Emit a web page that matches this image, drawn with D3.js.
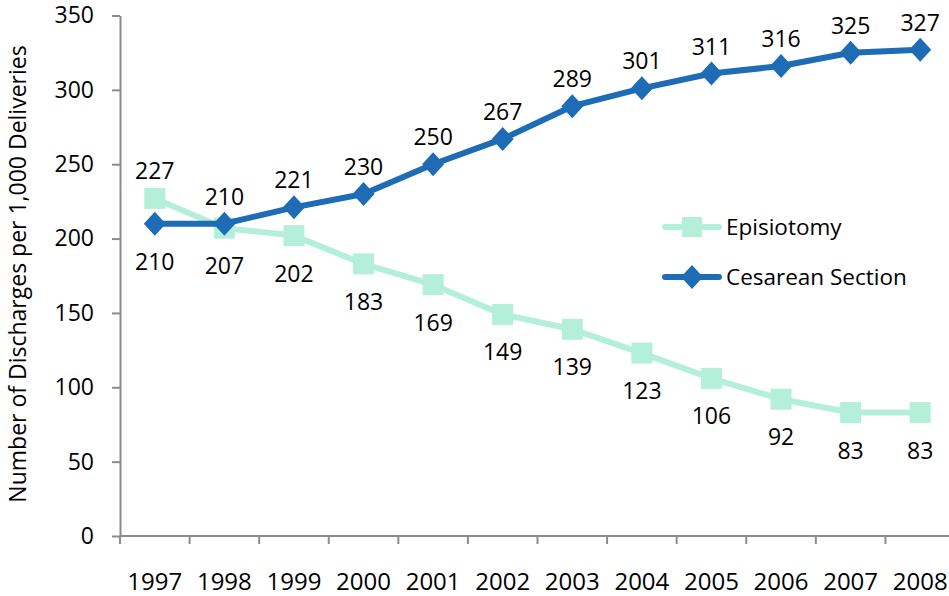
<!DOCTYPE html>
<html>
<head>
<meta charset="utf-8">
<script src="https://cdn.jsdelivr.net/npm/d3@7"></script>
<style>
  body { margin: 0; background: #fff; }
  svg { display: block; font-family: "Open Sans", sans-serif; }
</style>
</head>
<body>
<svg id="chart" width="949" height="596"></svg>
<script>
var years = ["1997", "1998", "1999", "2000", "2001", "2002", "2003", "2004", "2005", "2006", "2007", "2008"];
var episiotomy = [227, 207, 202, 183, 169, 149, 139, 123, 106, 92, 83, 83];
var cesarean = [210, 210, 221, 230, 250, 267, 289, 301, 311, 316, 325, 327];
var yTicks = [0, 50, 100, 150, 200, 250, 300, 350];

// label above (true) or below (false) the point
var epiAbove = [true, false, false, false, false, false, false, false, false, false, false, false];
var cesAbove = [false, true, true, true, true, true, true, true, true, true, true, true];

var mint = "#b3efd9", blue = "#1e6bb6", axisCol = "#8c8c8c";

var svg = d3.select("#chart");
var plotL = 120, plotB = 536, plotT = 15.5, plotR = 955;

var x = d3.scaleBand().domain(years).range([plotL, plotR]);
var y = d3.scaleLinear().domain([0, 350]).range([plotB, plotT]);
var cx = function(i) { return x(years[i]) + x.bandwidth() / 2; };

// y axis
var yAxis = svg.append("g")
  .attr("transform", "translate(" + plotL + ",0)")
  .call(d3.axisLeft(y).tickValues(yTicks).tickSize(8).tickPadding(18).tickSizeOuter(0));
yAxis.select(".domain").attr("stroke", axisCol).attr("stroke-width", 2);
yAxis.selectAll(".tick line").attr("stroke", axisCol).attr("stroke-width", 2);
yAxis.selectAll(".tick text").attr("font-size", 23).attr("fill", "#000")
  .attr("font-family", "Open Sans, sans-serif");

// x axis, ticks between categories
var xAxis = svg.append("g")
  .attr("transform", "translate(0," + plotB + ")");
xAxis.append("line").attr("x1", plotL).attr("x2", plotR).attr("stroke", axisCol).attr("stroke-width", 2);
xAxis.selectAll("line.tk").data(d3.range(years.length + 1)).enter().append("line")
  .attr("class", "tk")
  .attr("x1", function(d) { return plotL + d * x.bandwidth(); })
  .attr("x2", function(d) { return plotL + d * x.bandwidth(); })
  .attr("y1", 0).attr("y2", 8)
  .attr("stroke", axisCol).attr("stroke-width", 2);
xAxis.selectAll("text").data(years).enter().append("text")
  .attr("x", function(d, i) { return cx(i); })
  .attr("y", 54)
  .attr("text-anchor", "middle")
  .attr("font-size", 24)
  .text(function(d) { return d; });

// y axis title
svg.append("text")
  .attr("transform", "translate(26,274) rotate(-90)")
  .attr("text-anchor", "middle")
  .attr("font-size", 23)
  .text("Number of Discharges per 1,000 Deliveries");

var line = d3.line().x(function(d, i) { return cx(i); }).y(function(d) { return y(d); });

// Episiotomy
svg.append("path").datum(episiotomy).attr("d", line)
  .attr("fill", "none").attr("stroke", mint).attr("stroke-width", 6).attr("stroke-linejoin", "round");
svg.selectAll("rect.epi").data(episiotomy).enter().append("rect")
  .attr("class", "epi")
  .attr("x", function(d, i) { return cx(i) - 10.5; })
  .attr("y", function(d) { return y(d) - 10.5; })
  .attr("width", 21).attr("height", 21)
  .attr("fill", mint);

// Cesarean
svg.append("path").datum(cesarean).attr("d", line)
  .attr("fill", "none").attr("stroke", blue).attr("stroke-width", 6).attr("stroke-linejoin", "round");
var diamond = "M0,-12L11,0L0,12L-11,0Z";
svg.selectAll("path.ces").data(cesarean).enter().append("path")
  .attr("class", "ces")
  .attr("d", diamond)
  .attr("transform", function(d, i) { return "translate(" + cx(i) + "," + y(d) + ")"; })
  .attr("fill", blue);

// data labels
function labels(vals, above, cls) {
  svg.selectAll("text." + cls).data(vals).enter().append("text")
    .attr("class", cls)
    .attr("x", function(d, i) { return cx(i); })
    .attr("y", function(d, i) { return y(d) + (above[i] ? -27 : 38); })
    .attr("dy", "0.35em")
    .attr("text-anchor", "middle")
    .attr("font-size", 23)
    .text(function(d) { return d; });
}
labels(episiotomy, epiAbove, "lepi");
labels(cesarean, cesAbove, "lces");

// legend
var legend = [
  { name: "Episiotomy", color: mint, y: 227, type: "sq" },
  { name: "Cesarean Section", color: blue, y: 277, type: "di" }
];
var lg = svg.selectAll("g.lg").data(legend).enter().append("g")
  .attr("class", "lg")
  .attr("transform", function(d) { return "translate(0," + d.y + ")"; });
lg.append("line").attr("x1", 665).attr("x2", 719)
  .attr("stroke", function(d) { return d.color; }).attr("stroke-width", 6).attr("stroke-linecap", "round");
lg.filter(function(d) { return d.type === "sq"; }).append("rect")
  .attr("x", 682).attr("y", -10).attr("width", 20).attr("height", 20).attr("fill", mint);
lg.filter(function(d) { return d.type === "di"; }).append("path")
  .attr("d", diamond).attr("transform", "translate(692,0)").attr("fill", blue);
lg.append("text").attr("x", 726).attr("dy", "0.35em").attr("font-size", 22.5)
  .text(function(d) { return d.name; });
</script>
</body>
</html>
